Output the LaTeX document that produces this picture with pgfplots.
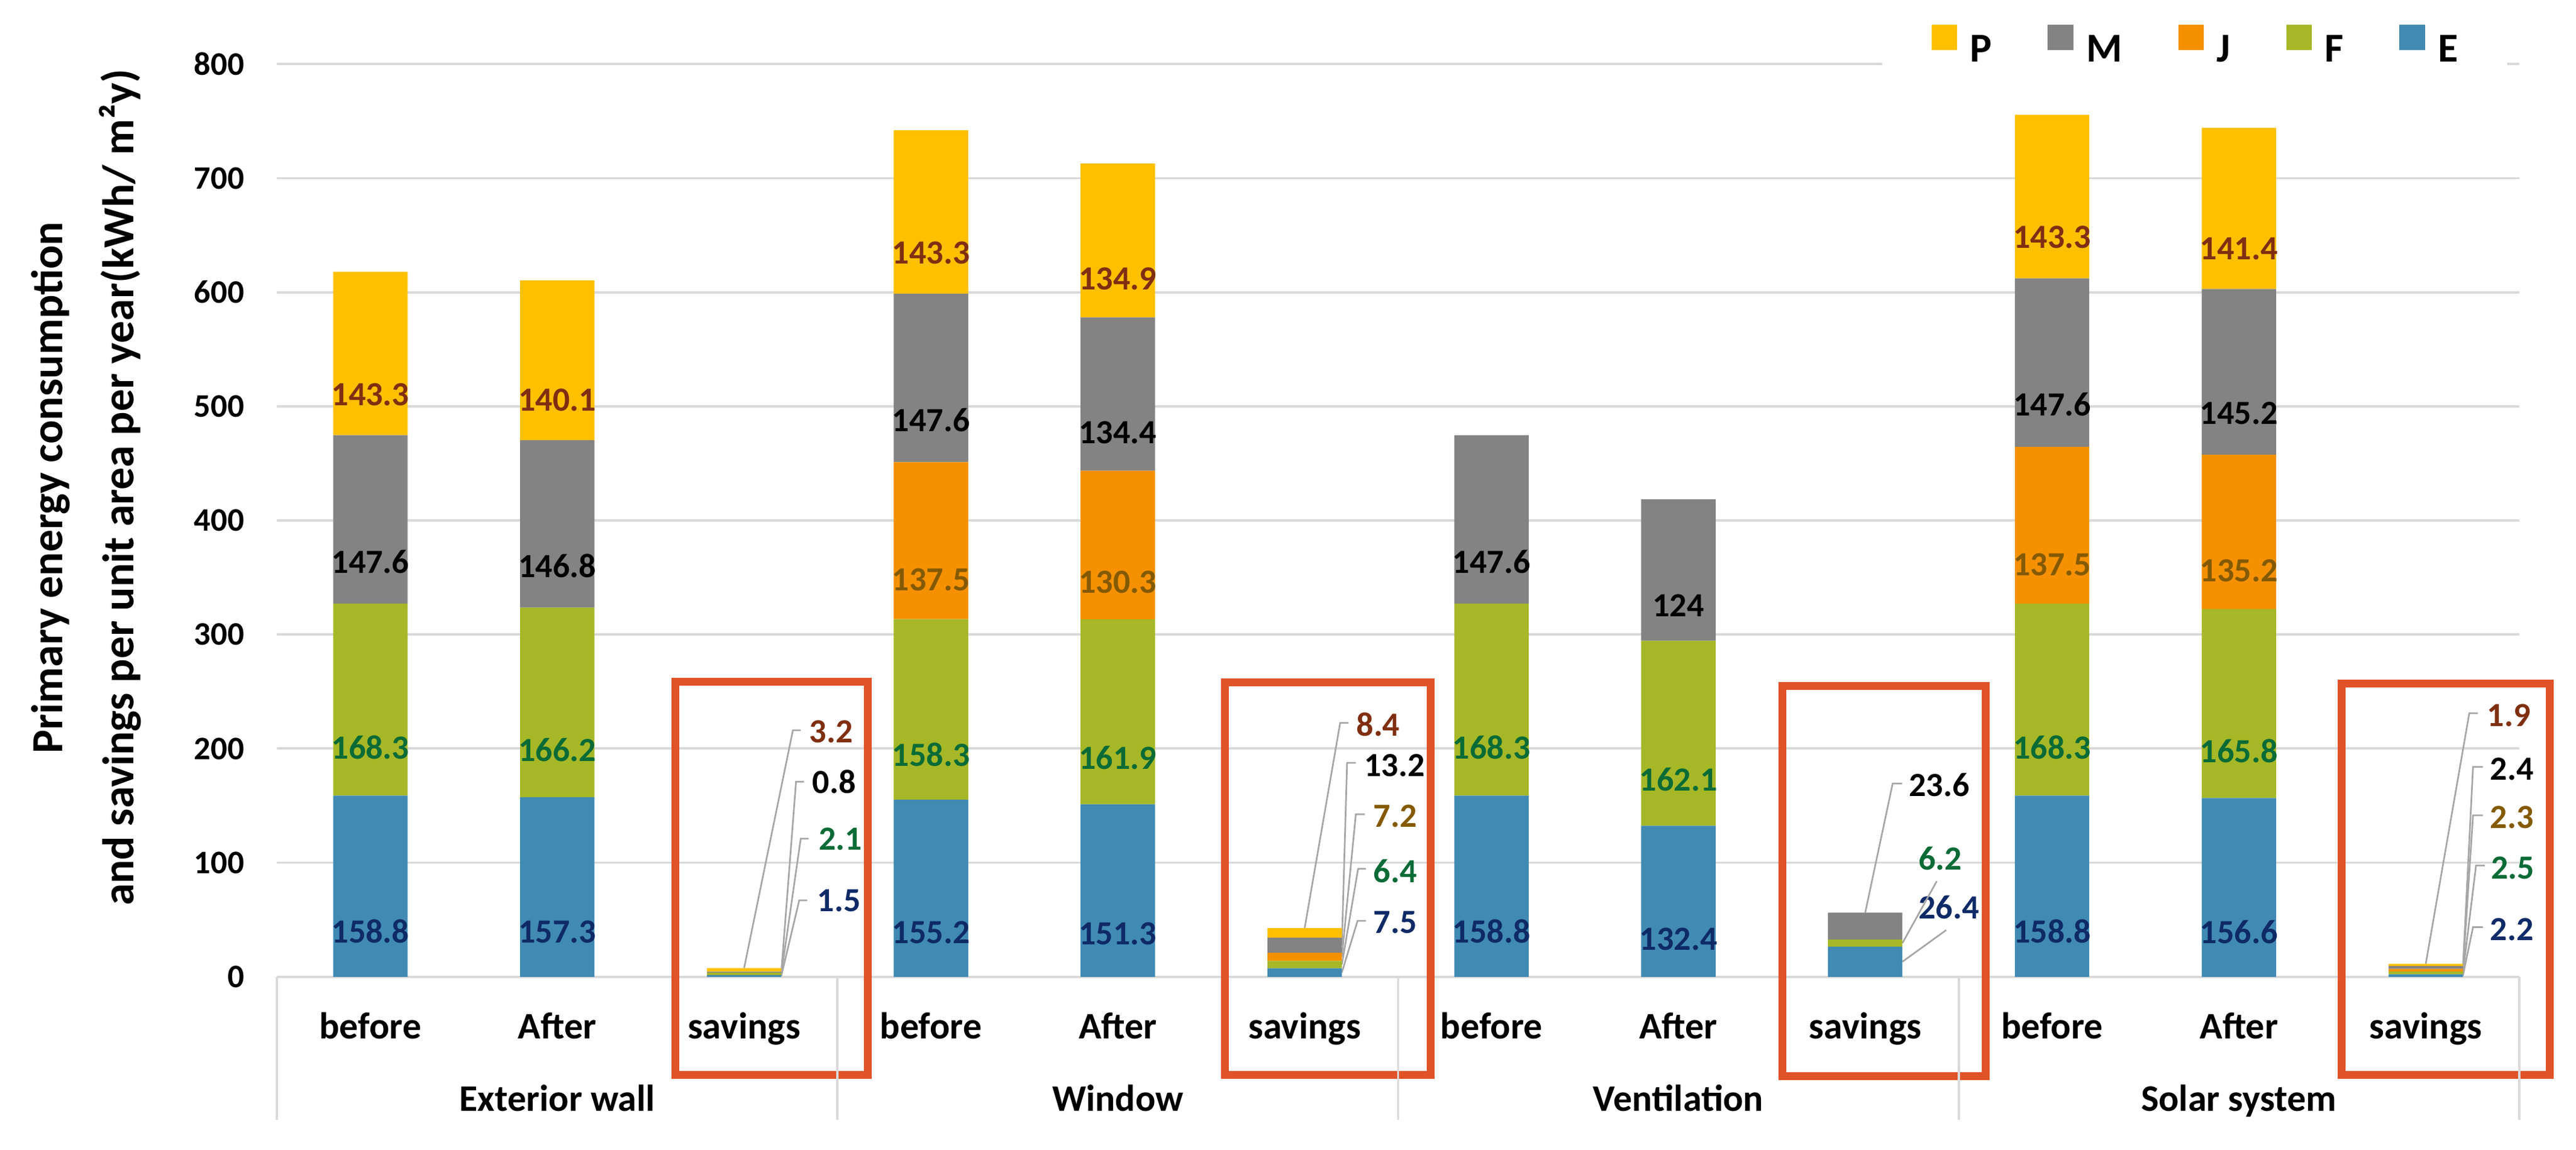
\documentclass[border=0pt]{standalone}
\usepackage{fontspec}
\setmainfont{Carlito}
\usepackage{pgfplots}
\usepackage{pgfplotstable}
\pgfplotsset{compat=1.18}
\definecolor{cE}{HTML}{418AB3}
\definecolor{cF}{HTML}{A6B727}
\definecolor{cJ}{HTML}{F59100}
\definecolor{cM}{HTML}{838383}
\definecolor{cP}{HTML}{FEC000}
\definecolor{tE}{HTML}{0E2A67}
\definecolor{tF}{HTML}{0A6B36}
\definecolor{tJ}{HTML}{845A00}
\definecolor{tM}{HTML}{000000}
\definecolor{tP}{HTML}{7F2F10}
\definecolor{gridc}{HTML}{D9D9D9}
\definecolor{boxc}{HTML}{E05328}
\definecolor{leadc}{HTML}{A6A6A6}
\newcommand\lblfont{\bfseries\fontsize{10.3}{12}\selectfont}
\newcommand\tickfont{\bfseries\fontsize{10}{12}\selectfont}
\newcommand\catfont{\bfseries\fontsize{11.4}{13}\selectfont}
\newcommand\legfont{\bfseries\fontsize{12.5}{14}\selectfont}
\newcommand\yfont{\bfseries\fontsize{13.5}{16}\selectfont}

% categories: 0 before,1 After,2 savings (Exterior wall); 3-5 Window; 6-8 Ventilation; 9-11 Solar system
% lab = text shown inside the bar ({} = none; savings are labelled by call-outs)
\pgfplotstableread{
x y lab
0 158.8 158.8
1 157.3 157.3
2 1.5 {}
3 155.2 155.2
4 151.3 151.3
5 7.5 {}
6 158.8 158.8
7 132.4 132.4
8 26.4 {}
9 158.8 158.8
10 156.6 156.6
11 2.2 {}
}\dataE
\pgfplotstableread{
x y lab
0 168.3 168.3
1 166.2 166.2
2 2.1 {}
3 158.3 158.3
4 161.9 161.9
5 6.4 {}
6 168.3 168.3
7 162.1 162.1
8 6.2 {}
9 168.3 168.3
10 165.8 165.8
11 2.5 {}
}\dataF
\pgfplotstableread{
x y lab
0 0 {}
1 0 {}
2 0 {}
3 137.5 137.5
4 130.3 130.3
5 7.2 {}
6 0 {}
7 0 {}
8 0 {}
9 137.5 137.5
10 135.2 135.2
11 2.3 {}
}\dataJ
\pgfplotstableread{
x y lab
0 147.6 147.6
1 146.8 146.8
2 0.8 {}
3 147.6 147.6
4 134.4 134.4
5 13.2 {}
6 147.6 147.6
7 124 124
8 23.6 {}
9 147.6 147.6
10 145.2 145.2
11 2.4 {}
}\dataM
\pgfplotstableread{
x y lab
0 143.3 143.3
1 140.1 140.1
2 3.2 {}
3 143.3 143.3
4 134.9 134.9
5 8.4 {}
6 0 {}
7 0 {}
8 0 {}
9 143.3 143.3
10 141.4 141.4
11 1.9 {}
}\dataP

\begin{document}
\begin{tikzpicture}
\tikzset{lead/.style={leadc, line width=0.5pt}, clab/.style={font=\lblfont, anchor=west, inner sep=0pt},
  sep/.style={gridc, line width=0.7pt}, rbox/.style={boxc, line width=2.4pt}}
\begin{axis}[
  at={(84.3pt,52.7pt)}, anchor=south west,
  scale only axis, width=682.4pt, height=277.9pt,
  xmin=-0.5, xmax=11.5, ymin=0, ymax=800,
  ybar stacked, bar width=22.65pt,
  axis line style={draw=none},
  ytick={0,100,...,800},
  ymajorgrids, grid style={gridc, line width=0.7pt},
  major tick length=0pt,
  xtick={0,...,11},
  xticklabels={before,After,savings,before,After,savings,before,After,savings,before,After,savings},
  xticklabel style={font=\catfont, anchor=base, yshift=-18.9pt, inner sep=0pt},
  yticklabel style={font=\tickfont, anchor=east, inner sep=0pt, xshift=-9.8pt},
  /pgf/number format/assume math mode=true,
  clip=false,
  point meta=explicit symbolic,
  visualization depends on={rawy \as \rawy},
  nodes near coords,
  nodes near coords style={anchor=center, font=\lblfont, inner sep=0pt, yshift={-0.08684375*\rawy*1pt}},
  legend columns=-1, reverse legend,
  legend style={draw=none, fill=white, at={(0.7156,1.0202)}, anchor=west,
    inner xsep=15pt, inner ysep=4pt, font=\legfont, nodes={inner sep=0pt},
    /tikz/every odd column/.append style={column sep=4pt},
    /tikz/every even column/.append style={column sep=17pt}},
  legend image code/.code={\fill[#1] (0pt,0.15pt) rectangle (7.75pt,7.9pt);},
]
\addplot[fill=cE, draw=none, nodes near coords style={text=tE}] table[meta=lab] {\dataE};
\addlegendentry{E}
\addplot[fill=cF, draw=none, nodes near coords style={text=tF}] table[meta=lab] {\dataF};
\addlegendentry{F}
\addplot[fill=cJ, draw=none, nodes near coords style={text=tJ}] table[meta=lab] {\dataJ};
\addlegendentry{J}
\addplot[fill=cM, draw=none, nodes near coords style={text=tM}] table[meta=lab] {\dataM};
\addlegendentry{M}
\addplot[fill=cP, draw=none, nodes near coords style={text=tP}] table[meta=lab] {\dataP};
\addlegendentry{P}

% category separators
\draw[sep] (axis cs:-0.5,0) -- ([yshift=-43.5pt]axis cs:-0.5,0);
\draw[sep] (axis cs:2.5,0) -- ([yshift=-43.5pt]axis cs:2.5,0);
\draw[sep] (axis cs:5.5,0) -- ([yshift=-43.5pt]axis cs:5.5,0);
\draw[sep] (axis cs:8.5,0) -- ([yshift=-43.5pt]axis cs:8.5,0);
\draw[sep] (axis cs:11.5,0) -- ([yshift=-43.5pt]axis cs:11.5,0);
% group labels
\node[font=\catfont, anchor=base, inner sep=0pt] at ([yshift=-40.95pt]axis cs:1,0) {Exterior wall};
\node[font=\catfont, anchor=base, inner sep=0pt] at ([yshift=-40.95pt]axis cs:4,0) {Window};
\node[font=\catfont, anchor=base, inner sep=0pt] at ([yshift=-40.95pt]axis cs:7,0) {Ventilation};
\node[font=\catfont, anchor=base, inner sep=0pt] at ([yshift=-40.95pt]axis cs:10,0) {Solar system};

% y label
\node[font=\yfont, rotate=90, anchor=base, inner sep=0pt] at ([xshift=-65.35pt]rel axis cs:0,0.536) {Primary energy consumption};
\node[font=\yfont, rotate=90, anchor=base, inner sep=0pt] at ([xshift=-43.6pt]rel axis cs:0,0.536) {and savings per unit area per year(kWh/ m²y)};

% savings call-outs
% Exterior wall
\draw[lead] (axis cs:2,7.6) -- (axis cs:2.261,216) -- (axis cs:2.303,216);
\node[clab, text=tP] at (axis cs:2.346,215) {3.2};
\draw[lead] (axis cs:2.199,4.0) -- (axis cs:2.278,171) -- (axis cs:2.320,171);
\node[clab, text=tM] at (axis cs:2.362,171) {0.8};
\draw[lead] (axis cs:2.199,2.55) -- (axis cs:2.303,121) -- (axis cs:2.345,121);
\node[clab, text=tF] at (axis cs:2.396,121) {2.1};
\draw[lead] (axis cs:2.199,0.75) -- (axis cs:2.295,67) -- (axis cs:2.337,67);
\node[clab, text=tE] at (axis cs:2.388,67) {1.5};
% Window
\draw[lead] (axis cs:5,42.7) -- (axis cs:5.19,222.5) -- (axis cs:5.235,222.5);
\node[clab, text=tP] at (axis cs:5.274,221.2) {8.4};
\draw[lead] (axis cs:5.199,27.7) -- (axis cs:5.227,187.5) -- (axis cs:5.274,187.5);
\node[clab, text=tM] at (axis cs:5.315,185.4) {13.2};
\draw[lead] (axis cs:5.199,17.5) -- (axis cs:5.274,142.5) -- (axis cs:5.322,142.5);
\node[clab, text=tJ] at (axis cs:5.365,141) {7.2};
\draw[lead] (axis cs:5.199,10.7) -- (axis cs:5.286,94.6) -- (axis cs:5.328,94.6);
\node[clab, text=tF] at (axis cs:5.365,92.7) {6.4};
\draw[lead] (axis cs:5.199,3.75) -- (axis cs:5.283,49) -- (axis cs:5.328,49);
\node[clab, text=tE] at (axis cs:5.365,47.7) {7.5};
% Ventilation
\draw[lead] (axis cs:8,56.2) -- (axis cs:8.147,169.4) -- (axis cs:8.197,169.4);
\node[clab, text=tM] at (axis cs:8.231,168) {23.6};
\draw[lead] (axis cs:8.199,29.5) -- (axis cs:8.383,83.8);
\node[clab, text=tF] at (axis cs:8.282,103.6) {6.2};
\draw[lead] (axis cs:8.199,13.2) -- (axis cs:8.433,40.9);
\node[clab, text=tE] at (axis cs:8.282,60.7) {26.4};
% Solar system
\draw[lead] (axis cs:11,11.3) -- (axis cs:11.233,231) -- (axis cs:11.279,231);
\node[clab, text=tP] at (axis cs:11.325,229) {1.9};
\draw[lead] (axis cs:11.199,8.2) -- (axis cs:11.253,184) -- (axis cs:11.306,184);
\node[clab, text=tM] at (axis cs:11.341,182) {2.4};
\draw[lead] (axis cs:11.199,5.85) -- (axis cs:11.253,141.5) -- (axis cs:11.306,141.5);
\node[clab, text=tJ] at (axis cs:11.341,139.8) {2.3};
\draw[lead] (axis cs:11.199,3.45) -- (axis cs:11.269,97.5) -- (axis cs:11.316,97.5);
\node[clab, text=tF] at (axis cs:11.347,95.5) {2.5};
\draw[lead] (axis cs:11.199,1.1) -- (axis cs:11.253,43.5) -- (axis cs:11.306,43.5);
\node[clab, text=tE] at (axis cs:11.341,41.6) {2.2};

% red boxes
\draw[rbox] (axis cs:1.631,258.8) rectangle ([yshift=-29.95pt]axis cs:2.662,0);
\draw[rbox] (axis cs:4.572,258.1) rectangle ([yshift=-29.95pt]axis cs:5.675,0);
\draw[rbox] (axis cs:7.558,254.9) rectangle ([yshift=-30.3pt]axis cs:8.646,0);
\draw[rbox] (axis cs:10.551,257.1) rectangle ([yshift=-29.95pt]axis cs:11.663,0);
\end{axis}
\pgfresetboundingbox
\path (0,0) rectangle (784pt,350.1pt);
\end{tikzpicture}
\end{document}
